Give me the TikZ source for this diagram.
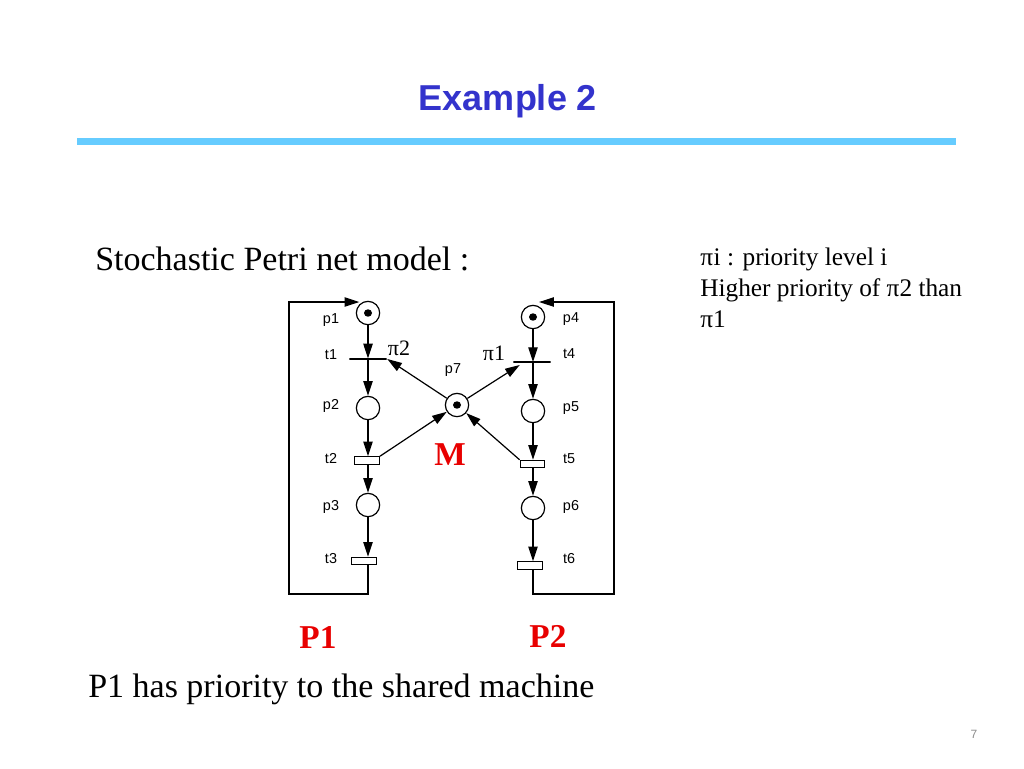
\documentclass[tikz,border=0pt]{standalone}
\usepackage{fontspec}
\setmainfont{Liberation Serif}
\newfontfamily\arialfont{Liberation Sans}
\usetikzlibrary{arrows.meta,calc}
\definecolor{titleblue}{RGB}{51,51,204}
\definecolor{barblue}{RGB}{102,204,255}
\definecolor{pred}{RGB}{232,0,0}
\begin{document}
\begin{tikzpicture}[x=0.75pt,y=-0.75pt,
  place/.style={circle,draw,line width=0.9pt,minimum size=17.5pt,inner sep=0pt},
  marked/.style={place,path picture={\fill (path picture bounding box.center) ellipse (3pt and 2.8pt);}},
  imm/.style={draw,line width=0.9pt,rectangle,minimum width=28pt,minimum height=0pt,inner sep=0pt},
  timed/.style={draw,line width=0.9pt,rectangle,fill=white,minimum width=18.5pt,minimum height=5.5pt,inner sep=0pt},
  lab/.style={font=\arialfont\fontsize{10.8}{12}\selectfont,inner sep=0pt},
  prio/.style={font=\fontsize{16.5}{18}\selectfont,inner sep=0pt},
  arc/.style={-{Triangle[length=11pt,width=7pt]},line width=0.9pt},
  big/.style={font=\fontsize{25.5}{28}\selectfont,inner sep=0pt,anchor=base west},
  side/.style={font=\fontsize{19}{22}\selectfont,inner sep=0pt,anchor=base west},
  redlab/.style={font=\bfseries\fontsize{25}{28}\selectfont,text=pred,inner sep=0pt}
]
\useasboundingbox (0,0) rectangle (1024,768);

% title and bar
\node[font=\arialfont\bfseries\fontsize{27}{30}\selectfont,text=titleblue,inner sep=0pt,anchor=base] (title) at (508,110) {Example 2};
\fill[barblue] (77,138) rectangle (956,145);

% texts
\node[big] (model) at (95,270.5) {Stochastic Petri net model :};
\node[side] (s1) at (700,265.5) {π\kern0.5pt i : priority level i};
\node[side] (s2) at (700,296.5) {Higher priority of π2 than};
\node[side] (s3) at (700,327.5) {π1};
\node[big] (bottom) at (88,697) {P1 has priority to the shared machine};
\node[font=\arialfont\fontsize{9}{10}\selectfont,text=black!45,inner sep=0pt] (pg) at (974,734) {7};

% left column
\node[marked] (p1) at (368,313) {};
\node[imm] (t1) at (368,359) {};
\node[place] (p2) at (368,408) {};
\node[timed] (t2) at (367,460.5) {};
\node[place] (p3) at (368,505) {};
\node[timed] (t3) at (364,561) {};

% right column
\node[marked] (p4) at (533,317) {};
\node[imm] (t4) at (532,362) {};
\node[place] (p5) at (533,411) {};
\node[timed] (t5) at (532.5,464) {};
\node[place] (p6) at (533,508) {};
\node[timed] (t6) at (530,565.5) {};

% shared machine
\node[marked] (p7) at (457,405) {};

% labels
\node[lab] (lp1) at (331,320) {p1};
\node[lab] (lt1) at (331,355) {t1};
\node[lab] (lp2) at (331,406) {p2};
\node[lab] (lt2) at (331,459) {t2};
\node[lab] (lp3) at (331,507) {p3};
\node[lab] (lt3) at (331,559) {t3};
\node[lab] (lp4) at (571,319) {p4};
\node[lab] (lt4) at (569,354) {t4};
\node[lab] (lp5) at (571,408) {p5};
\node[lab] (lt5) at (569,459) {t5};
\node[lab] (lp6) at (571,507) {p6};
\node[lab] (lt6) at (569,559) {t6};
\node[lab] (lp7) at (453,370) {p7};
\node[prio] (pi2) at (399,348) {π2};
\node[prio] (pi1) at (494,353) {π1};
\node[redlab] (M) at (450,455) {M};
\node[redlab] (P1) at (318,637) {P1};
\node[redlab] (P2) at (548,636) {P2};

% arcs left
\draw[arc] (p1) -- (t1);
\draw[arc] (t1) -- (p2);
\draw[arc] (p2) -- (p2 |- t2.north);
\draw[arc] (p2 |- t2.south) -- (p3);
\draw[arc] (p3) -- (p3 |- t3.north);
\coordinate (l1) at (289,594);
\coordinate (l2) at (289,302);
\draw[arc] (p3 |- t3.south) |- (l1) -- (l2) -- (l2 -| p1.north west);

% arcs right
\draw[arc] (p4) -- (p4 |- t4);
\draw[arc] (p4 |- t4) -- (p5);
\draw[arc] (p5) -- (p5 |- t5.north);
\draw[arc] (p5 |- t5.south) -- (p6);
\draw[arc] (p6) -- (p6 |- t6.north);
\coordinate (r1) at (614,594);
\coordinate (r2) at (614,302);
\draw[arc] (p6 |- t6.south) |- (r1) -- (r2) -- (r2 -| p4.60);

% shared machine arcs
\draw[arc] (p7) -- (t1.east);
\draw[arc] (p7) -- ($(t4.west)+(7,3)$);
\draw[arc] (t2.north east) -- (p7);
\draw[arc] (t5.north west) -- (p7);
\end{tikzpicture}
\end{document}
